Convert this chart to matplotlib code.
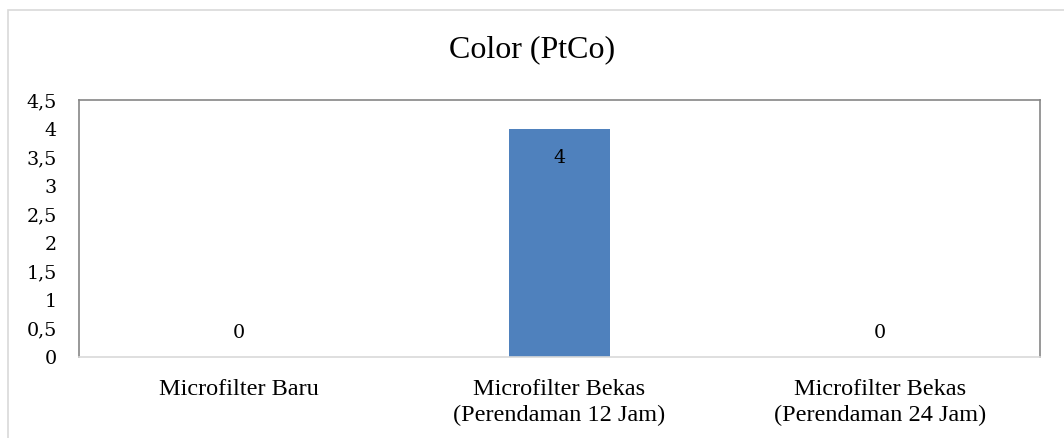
import matplotlib
matplotlib.use("Agg")
import matplotlib.pyplot as plt
from matplotlib.patches import Rectangle
from matplotlib.ticker import MultipleLocator, FuncFormatter

# Data
categories = ["Microfilter Baru",
              "Microfilter Bekas\n(Perendaman 12 Jam)",
              "Microfilter Bekas\n(Perendaman 24 Jam)"]
values = [0, 4, 0]
title = "Color (PtCo)"

serif = ["Liberation Serif", "DejaVu Serif"]
num_font = ["DejaVu Serif"]

fig = plt.figure(figsize=(10.64, 4.38), dpi=100)
fig.patch.set_facecolor("white")

# outer chart border (light grey)
fig.patches.append(Rectangle((8 / 1064, -0.05), 1.2, 1 - 10 / 438 + 0.05,
                             transform=fig.transFigure, fill=False,
                             edgecolor="#d9d9d9", linewidth=1.2))

ax = fig.add_axes([79 / 1064, 81 / 438, 961 / 1064, 257 / 438])
x = range(len(categories))
ax.bar(x, values, width=0.315, color="#4f81bd")

ax.set_xlim(-0.5, len(categories) - 0.5)
ax.set_ylim(0, 4.5)
ax.yaxis.set_major_locator(MultipleLocator(0.5))
ax.yaxis.set_major_formatter(FuncFormatter(lambda v, p: ("%g" % v).replace(".", ",")))
ax.set_xticks(list(x))
ax.set_xticklabels(categories, fontsize=17.5, family=serif, linespacing=1.27)
for lab in ax.get_yticklabels():
    lab.set_family(num_font)
    lab.set_fontsize(13.8)
ax.tick_params(axis="y", length=0, pad=16)
ax.tick_params(axis="x", length=0, pad=16)

for side in ["left", "top", "right"]:
    ax.spines[side].set_color("#868686")
    ax.spines[side].set_linewidth(1.2)
ax.spines["bottom"].set_color("#d9d9d9")
ax.spines["bottom"].set_linewidth(1.2)

# data labels
for xi, v in zip(x, values):
    if v > 0:
        off = -21
    else:
        off = 17.5
    ax.annotate(str(v), (xi, v), xytext=(0, off), textcoords="offset points",
                ha="center", va="center", fontsize=13.8, family=num_font)

fig.text(0.5, 1 - 50 / 438, title, ha="center", va="center",
         fontsize=23, family=serif)

fig.savefig("out.png", dpi=100)
